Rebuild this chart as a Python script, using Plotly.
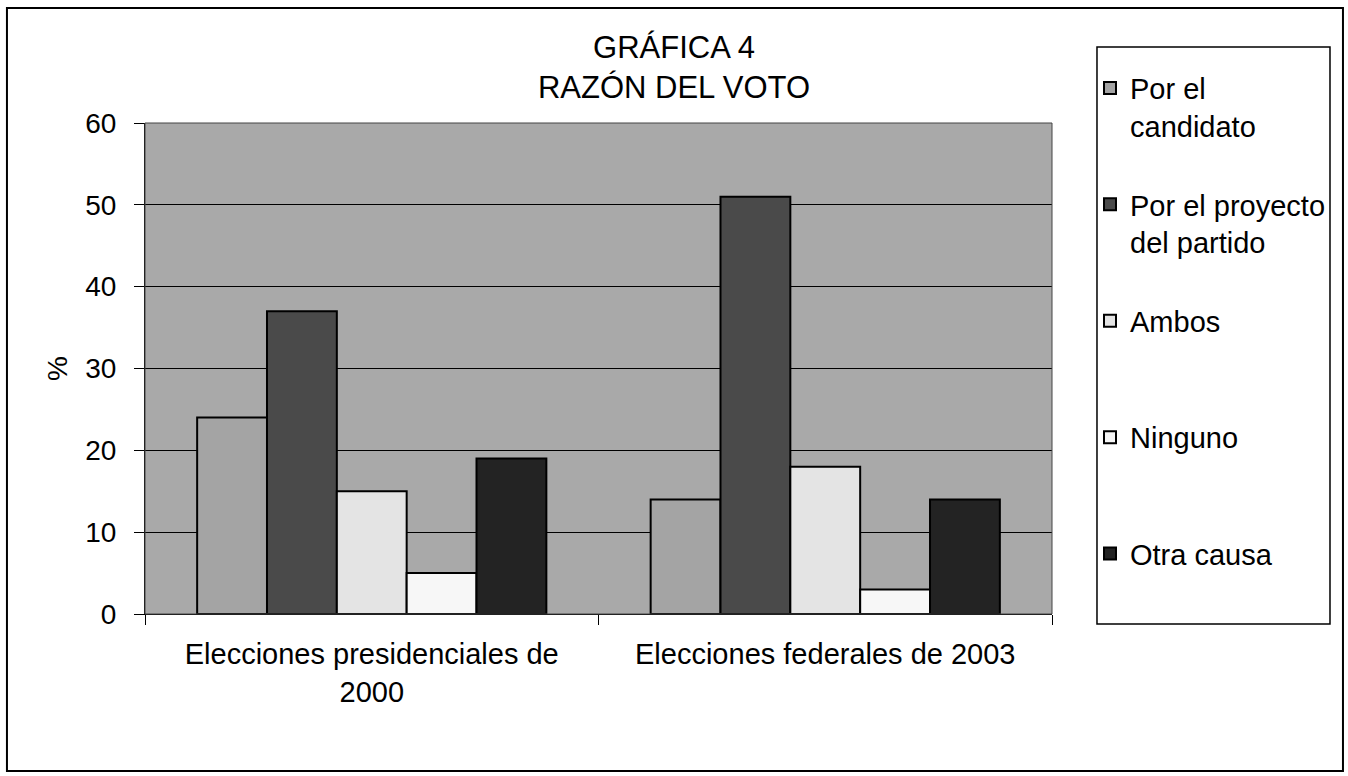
import plotly.graph_objects as go

categories = ["Elecciones presidenciales de<br>2000", "Elecciones federales de 2003"]
series_names = ["Por el<br>candidato", "Por el proyecto<br>del partido", "Ambos", "Ninguno", "Otra causa"]
series_values = [
    [24, 14],
    [37, 51],
    [15, 18],
    [5, 3],
    [19, 14],
]
series_colors = ["#a4a4a4", "#4a4a4a", "#e4e4e4", "#f7f7f7", "#232323"]
y_ticks = [0, 10, 20, 30, 40, 50, 60]

FONT = "Liberation Sans, Arial, sans-serif"

fig = go.Figure()
for i, (name, vals, col) in enumerate(zip(series_names, series_values, series_colors)):
    # pad single-line legend entries to two lines so entries are evenly spaced
    legend_name = name if "<br>" in name else name + "<br> "
    fig.add_trace(go.Bar(
        x=categories, y=vals, name=legend_name,
        marker=dict(color=col, line=dict(color="black", width=2)),
        legendgroup=f"g{i}",
    ))

fig.update_layout(
    width=1348, height=776,
    margin=dict(l=145, r=296, t=123, b=162),
    paper_bgcolor="white",
    plot_bgcolor="#a9a9a9",
    barmode="group",
    bargap=0.23,
    bargroupgap=0,
    font=dict(family=FONT, size=28, color="black"),
    title=dict(
        text="GRÁFICA 4<br>RAZÓN DEL VOTO",
        x=0.5, xanchor="center",
        y=1 - 58 / 776, yanchor="top",
        font=dict(family=FONT, size=31, color="black"),
    ),
    showlegend=True,
    legend=dict(
        x=1.0419, xanchor="left", y=1.123, yanchor="top",
        font=dict(family=FONT, size=29, color="black"),
        bgcolor="rgba(0,0,0,0)",
        tracegroupgap=38,
        valign="top",
        traceorder="grouped",
        maxheight=760,
    ),
    xaxis=dict(
        showline=True, linecolor="black", linewidth=1,
        ticks="outside", tickson="boundaries", ticklen=10, tickcolor="black",
        tickfont=dict(size=29),
        ticklabelstandoff=14,
        showgrid=False,
    ),
    yaxis=dict(
        range=[0, 60],
        tickvals=y_ticks,
        showline=True, linecolor="black", linewidth=1,
        ticks="outside", ticklen=10, tickcolor="black",
        ticklabelstandoff=12,
        showgrid=True, gridcolor="black", gridwidth=1,
        zeroline=False,
        title=dict(text="%", font=dict(size=28), standoff=9),
        tickfont=dict(size=28),
    ),
)

# plot-area frame (top and right edges)
fig.add_shape(type="rect", xref="paper", yref="paper", x0=0, x1=1, y0=0, y1=1,
              line=dict(color="#444444", width=1), layer="above")
# legend box
fig.add_shape(type="rect", xref="paper", yref="paper",
              x0=1.0496, x1=1.3065, y0=-0.0204, y1=1.1548,
              line=dict(color="black", width=1.5))
# outer chart border
fig.add_shape(type="rect", xref="paper", yref="paper",
              x0=-0.1522, x1=1.3208, y0=-0.3198, y1=1.2342,
              line=dict(color="black", width=2))

fig.write_html("out.html", config={"displayModeBar": False},
               post_script="document.body.style.margin='0';")
